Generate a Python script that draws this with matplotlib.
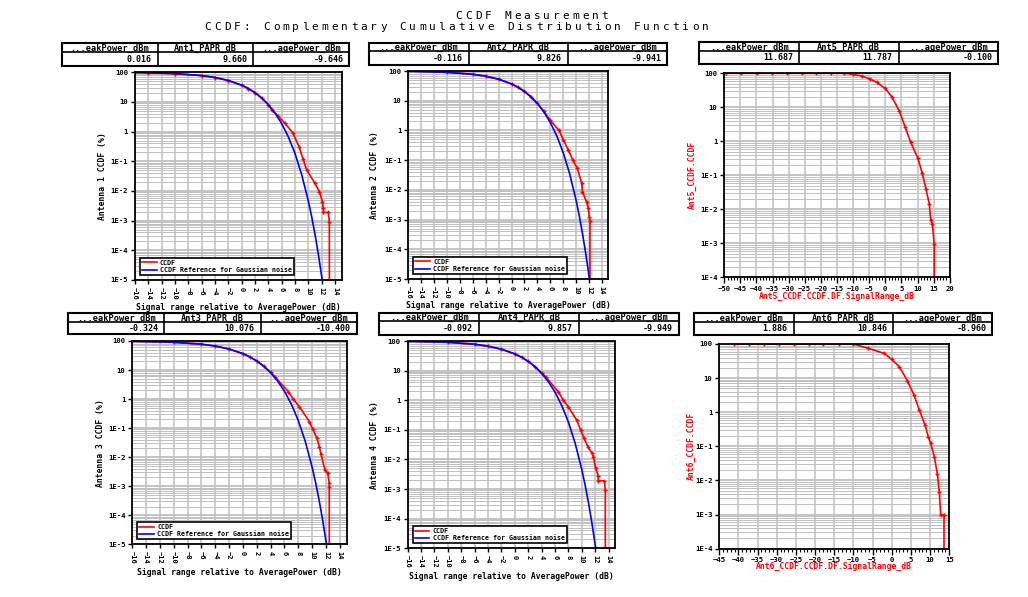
import numpy as np
import matplotlib
matplotlib.use('Agg')
import matplotlib.pyplot as plt
from matplotlib.ticker import LogLocator, NullFormatter, MultipleLocator
from matplotlib.patches import Rectangle

# ---- data ----
# Gaussian noise reference (dB relative to average power, CCDF in %)
gauss_db = [-16, -10, -6, -4, -2, 0, 1, 2, 3, 4, 5, 6, 7, 8, 9, 10, 10.5, 11, 11.5, 12, 12.1]
gauss_pct = [97.5, 90.5, 77.8, 67.2, 53.2, 36.8, 28.4, 20.5, 13.6, 8.1, 4.23, 1.87, 0.666,
             0.182, 0.0355, 0.00454, 0.00134, 0.00034, 0.000073, 0.000013, 0.00001]

ant1_db = [-16, -14, -10, -6, -4, -2, 0, 1, 2, 3, 4, 4.5, 5.5, 6.5, 7.65, 8.6, 9.2, 9.75,
           11.0, 11.65, 12.1, 12.25, 12.25, 13.0, 13.15, 13.15]
ant1_pct = [99, 97.5, 90, 77, 66.5, 52.5, 36.5, 28.3, 20.5, 13.6, 8.2, 5.5, 3.3, 1.91, 0.92,
            0.31, 0.12, 0.051, 0.018, 0.0095, 0.0044, 0.0026, 0.0019, 0.0019, 0.00091, 0.00001]

ant2_db = [-16, -10, -6, -4, -2, 0, 1, 2, 3, 4, 5, 6, 7.36, 8.03, 8.8, 9.5, 10.2, 10.87,
           11.0, 11.65, 11.9, 12.05, 12.16, 12.16]
ant2_pct = [99, 90, 77, 66.5, 52.5, 36.5, 28.3, 20.5, 13.6, 8.2, 4.5, 2.2, 1.0, 0.48, 0.22,
            0.1, 0.053, 0.0166, 0.0087, 0.0038, 0.0024, 0.00126, 0.00091, 0.00001]

ant3_db = [-16, -10, -6, -4, -2, 0, 1, 2, 3, 4, 4.63, 6.56, 7.28, 8.15, 9.6, 10.08, 10.66,
           11.04, 11.28, 11.86, 12.25, 12.48, 12.48, 12.48]
ant3_pct = [99, 90, 77, 66.5, 52.5, 36.5, 28.3, 20.5, 13.6, 8.4, 5.9, 1.8, 1.0, 0.55, 0.167,
            0.093, 0.047, 0.023, 0.0126, 0.0036, 0.0028, 0.00127, 0.00091, 0.00001]

ant4_db = [-16, -10, -6, -4, -2, 0, 1, 2, 3, 4, 4.6, 6.49, 7.23, 7.98, 9.23, 9.83, 10.33,
           10.9, 11.47, 11.72, 12.07, 12.46, 12.46, 13.36, 13.51, 13.51]
ant4_pct = [99, 90, 77, 66.5, 52.5, 36.5, 28.3, 20.5, 13.6, 8.4, 6.2, 1.94, 1.0, 0.6, 0.215,
            0.099, 0.052, 0.027, 0.017, 0.0124, 0.005, 0.0027, 0.0019, 0.0019, 0.00093, 0.00001]

ant5_db = [-49.5, -44.8, -39.9, -35.3, -30.6, -25.9, -21.5, -16.9, -12.7, -9.94, -7.33,
           -4.75, -2.67, -0.09, 1.99, 4.35, 6.12, 7.89, 10.06, 11.49, 12.64, 13.66, 14.1,
           14.6, 15.2, 15.2]
ant5_pct = [100, 100, 100, 100, 100, 100, 100, 100, 100, 93.5, 83.3, 68, 54.3, 36.2, 20.5,
            7.8, 2.7, 0.93, 0.33, 0.115, 0.039, 0.0144, 0.0049, 0.0037, 0.00094, 0.0001]

ant6_db = [-41.1, -37.2, -33.4, -29.5, -25.6, -21.7, -17.9, -13.9, -10.04, -6.13, -2.03,
           -0.02, 1.96, 4.05, 5.80, 7.18, 8.67, 9.53, 10.15, 11.09, 11.87, 12.40, 12.76,
           13.62, 13.62]
ant6_pct = [100, 100, 100, 100, 100, 100, 100, 100, 100, 74.8, 53.4, 35.5, 21.6, 8.4, 3.19,
            1.16, 0.42, 0.19, 0.122, 0.05, 0.016, 0.0045, 0.00096, 0.00096, 0.0001]

tab_head = ['...eakPower_dBm', 'Ant%d_PAPR_dB', '...agePower_dBm']
tab_vals = {1: ['0.016', '9.660', '-9.646'],
            2: ['-0.116', '9.826', '-9.941'],
            3: ['-0.324', '10.076', '-10.400'],
            4: ['-0.092', '9.857', '-9.949'],
            5: ['11.687', '11.787', '-0.100'],
            6: ['1.886', '10.846', '-8.960']}

W, H = 1028, 597
MONO = 'DejaVu Sans Mono'
GRID = '#c0c0c0'
RED = '#ff0000'
BLUE = '#0000ff'


def box(l, t, r, b):
    return [l / W, 1 - b / H, (r - l) / W, (b - t) / H]


def spaced(x, y, s, pitch, size):
    # draw text with a fixed character pitch (pixels), centred at x
    x0 = x - pitch * (len(s) - 1) / 2
    for i, ch in enumerate(s):
        fig.text((x0 + i * pitch) / W, 1 - y / H, ch, fontsize=size, family=MONO,
                 ha='center', va='center')


def table(l, t, r, b, hb, ant):
    tax = fig.add_axes(box(l, t, r, b))
    tax.set_xlim(l, r)
    tax.set_ylim(b, t)
    tax.axis('off')
    tax.add_patch(Rectangle((l, t), r - l, b - t, fill=False, lw=1.5, ec='k', clip_on=False))
    tax.plot([l, r], [hb, hb], color='k', lw=1.2, clip_on=False)
    cw = (r - l) / 3
    for k in (1, 2):
        tax.plot([l + k * cw, l + k * cw], [t, b], color='k', lw=1.2, clip_on=False)
    for k in range(3):
        head = tab_head[k] % ant if '%d' in tab_head[k] else tab_head[k]
        tax.text(l + (k + 0.5) * cw, (t + hb) / 2 + 0.5, head, ha='center', va='center',
                 fontsize=6.2, family=MONO, fontweight='bold')
        tax.text(l + (k + 1) * cw - 6, (hb + b) / 2 + 0.5, tab_vals[ant][k], ha='right',
                 va='center', fontsize=6.0, family=MONO, fontweight='bold')


def logaxis(ax, ymin, labels):
    ax.set_yscale('log')
    ax.set_ylim(ymin, 100)
    dec = [10.0 ** k for k in range(2, int(np.log10(ymin)) - 1, -1)]
    ax.set_yticks(dec)
    ax.set_yticklabels(labels)
    ax.yaxis.set_minor_locator(LogLocator(base=10, subs=np.arange(2, 10)))
    ax.yaxis.set_minor_formatter(NullFormatter())
    ax.grid(which='major', axis='y', color=GRID, lw=1.3)
    ax.grid(which='minor', axis='y', color=GRID, lw=0.7)
    ax.grid(which='major', axis='x', color=GRID, lw=1.1)
    ax.set_axisbelow(True)
    ax.tick_params(axis='y', which='major', direction='out', length=3, width=1,
                   labelsize=5.2, pad=2)
    ax.tick_params(axis='y', which='minor', length=0)
    for sp in ax.spines.values():
        sp.set_linewidth(1.3)
    ax.spines['left'].set_linestyle((0, (4, 1)))
    ax.spines['right'].set_linestyle((0, (4, 1)))
    for lab in ax.get_yticklabels():
        lab.set_family(MONO)
        lab.set_fontweight('bold')


fig = plt.figure(figsize=(W / 100, H / 100), dpi=100)

spaced(532, 16, 'CCDF Measurement', 9.75, 8)
spaced(456.5, 27, 'CCDF: Complementary Cumulative Distribution Function', 9.75, 8)

ylab5 = ['100', '10', '1', '1E-1', '1E-2', '1E-3', '1E-4', '1E-5']
ylab4 = ['100', '10', '1', '1E-1', '1E-2', '1E-3', '1E-4']

# measured antennas with gaussian reference
meas = [
    (1, (135, 72.3, 341.7, 280), (61.7, 43.3, 349.3, 66, 51.7), ant1_db, ant1_pct, 103, 308),
    (2, (408.3, 71, 608.3, 279), (369.3, 43, 667.3, 65, 51.3), ant2_db, ant2_pct, 375, 306),
    (3, (132.3, 341, 346.7, 544.3), (68.3, 313.3, 356.7, 334.3, 321.7), ant3_db, ant3_pct, 100, 572.7),
    (4, (407.7, 341, 615.3, 548.3), (379.3, 312.7, 678.7, 335, 321.3), ant4_db, ant4_pct, 375, 576.7),
]

for ant, pos, tb, xd, yd, ylx, xly in meas:
    ax = fig.add_axes(box(*pos))
    logaxis(ax, 1e-5, ylab5)
    ax.plot(xd, yd, color=RED, lw=1.2, marker='+', ms=3.5, mew=1, label='CCDF')
    ax.plot(gauss_db, gauss_pct, color=BLUE, lw=1.2,
            label='CCDF Reference for Gaussian noise')
    ax.set_xlim(-16, 15)
    ax.set_xticks(np.arange(-16, 15, 2))
    ax.tick_params(axis='x', direction='out', length=3, width=1, labelsize=5, pad=2,
                   labelrotation=-90)
    for lab in ax.get_xticklabels():
        lab.set_family(MONO)
        lab.set_fontweight('bold')
    leg = ax.legend(loc='lower left', bbox_to_anchor=(0.024, 0.024), borderaxespad=0,
                    prop={'family': MONO, 'size': 4.8, 'weight': 'bold'}, fancybox=False,
                    edgecolor='k', framealpha=1, handlelength=2.2, borderpad=0.3,
                    labelspacing=0.2, handletextpad=0.5)
    leg.get_frame().set_linewidth(1.2)
    for h in leg.get_lines():
        h.set_marker('')
    table(*tb, ant)
    l, t, r, b = pos
    fig.text(ylx / W, 1 - (t + b) / 2 / H, 'Antenna %d CCDF (%%)' % ant, rotation=90,
             ha='center', va='center', fontsize=5.8, family=MONO, fontweight='bold')
    fig.text((l + r) / 2 / W, 1 - xly / H, 'Signal range relative to AveragePower (dB)',
             ha='center', va='center', fontsize=5.8, family=MONO, fontweight='bold')

# raw antenna traces on the right
raw = [
    (5, (724.3, 73.3, 949.7, 277.3), (699.3, 42.3, 998.3, 64.3, 50.7), ant5_db, ant5_pct,
     (-50, 20), 692.7, 296),
    (6, (719.3, 344, 949.3, 548.7), (694.3, 313.3, 992.3, 335, 321.7), ant6_db, ant6_pct,
     (-45, 15), 691.7, 566.7),
]

for ant, pos, tb, xd, yd, xl, ylx, xly in raw:
    ax = fig.add_axes(box(*pos))
    logaxis(ax, 1e-4, ylab4)
    ax.plot(xd, yd, color=RED, lw=1.2, marker='+', ms=3.5, mew=1)
    ax.set_xlim(*xl)
    ax.set_xticks(np.arange(xl[0], xl[1] + 1, 5))
    ax.xaxis.set_minor_locator(MultipleLocator(1))
    ax.tick_params(axis='x', which='major', direction='out', length=4, width=1,
                   labelsize=5.2, pad=2)
    ax.tick_params(axis='x', which='minor', direction='out', length=2, width=0.8)
    for lab in ax.get_xticklabels():
        lab.set_family(MONO)
        lab.set_fontweight('bold')
    table(*tb, ant)
    l, t, r, b = pos
    fig.text(ylx / W, 1 - (t + b) / 2 / H, 'Ant%d_CCDF.CCDF' % ant, rotation=90,
             ha='center', va='center', fontsize=5.8, family=MONO, fontweight='bold',
             color=RED)
    fig.text((l + r) / 2 / W, 1 - xly / H, 'Ant%d_CCDF.CCDF.DF.SignalRange_dB' % ant,
             ha='center', va='center', fontsize=5.8, family=MONO, fontweight='bold',
             color=RED)

fig.savefig('out.png', dpi=100)
